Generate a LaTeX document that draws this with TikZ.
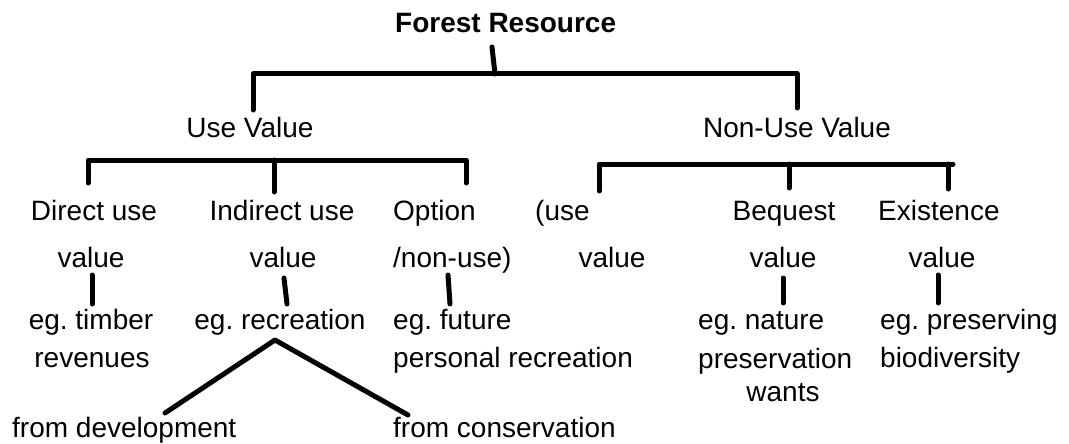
\documentclass[tikz,border=0pt]{standalone}
\usepackage{fontspec}
\setmainfont{Liberation Sans}
\frenchspacing
\begin{document}
\begin{tikzpicture}[x=1pt,y=-1pt,
  lbl/.style={inner sep=0pt, anchor=base, font=\fontsize{28}{34}\selectfont},
  lblw/.style={lbl, anchor=base west},
  conn/.style={line width=5pt, line cap=round, line join=round}]
\useasboundingbox[fill=white] (0,0) rectangle (1069,444);

% titles
\node[lblw, font=\fontsize{28}{34}\selectfont\bfseries] (fr) at (395,33) {Forest Resource};
\node[lbl] (uv) at (250,137) {Use Value};
\node[lbl] (nuv) at (797,137) {Non-Use Value};

% row 1
\node[lbl] (du1) at (94,220) {Direct use};
\node[lbl] (iu1) at (282,220) {Indirect use};
\node[lblw] (op1) at (393,220) {Option};
\node[lblw] (nu1) at (535,220) {(use};
\node[lbl] (bq1) at (784,220) {Bequest};
\node[lblw] (ex1) at (878,220) {Existence};

% row 2
\node[lbl] (du2) at (91,267) {value};
\node[lbl] (iu2) at (283,267) {value};
\node[lblw] (op2) at (393,267) {/non-use)};
\node[lbl] (nu2) at (612,267) {value};
\node[lbl] (bq2) at (783,267) {value};
\node[lbl] (ex2) at (942,267) {value};

% examples
\node[lbl] (due1) at (91,329) {eg. timber};
\node[lbl] (due2) at (92,367) {revenues};
\node[lbl] (iue) at (280,329) {eg. recreation};
\node[lblw] (ope1) at (393,329) {eg. future};
\node[lblw] (ope2) at (393,367) {personal recreation};
\node[lblw] (bqe1) at (698,329) {eg. nature};
\node[lblw] (bqe2) at (698,368) {preservation};
\node[lbl] (bqe3) at (783,401) {wants};
\node[lblw] (exe1) at (880,329) {eg. preserving};
\node[lblw] (exe2) at (880,367) {biodiversity};

\node[lblw] (dev) at (12,437) {from development};
\node[lblw] (con) at (393,437) {from conservation};

% coordinates
\coordinate (t0) at (492,47);
\coordinate (t1) at (495,74);
\coordinate (tl) at (253,74);
\coordinate (tr) at (797,74);
\coordinate (tlb) at (253,110);
\coordinate (trb) at (797,108);

\coordinate (ul) at (88,160);
\coordinate (um) at (274,160);
\coordinate (ur) at (466,160);
\coordinate (ulb) at (88,183);
\coordinate (umb) at (274,192);
\coordinate (urb) at (466,183);

\coordinate (nl) at (599,164);
\coordinate (nm) at (789,164);
\coordinate (nr) at (953,164);
\coordinate (nrv) at (948,164);
\coordinate (nlb) at (599,191);
\coordinate (nmb) at (789,188);
\coordinate (nrb) at (948,189);

\coordinate (a1) at (92,275);   \coordinate (b1) at (92,304);
\coordinate (a2) at (284,278);  \coordinate (b2) at (287,304);
\coordinate (a3) at (448,275);  \coordinate (b3) at (450,304);
\coordinate (a4) at (783,278);  \coordinate (b4) at (783,303);
\coordinate (a5) at (938,275);  \coordinate (b5) at (938,303);

\coordinate (apex) at (275,340);
\coordinate (vl) at (165,413);
\coordinate (vr) at (408,415);

% connectors
\draw[conn] (t0) -- (t1);
\draw[conn] (tlb) -- (tl) -- (tr) -- (trb);

\draw[conn] (ulb) -- (ul) -- (ur) -- (urb);
\draw[conn] (um) -- (umb);

\draw[conn] (nlb) -- (nl) -- (nr);
\draw[conn] (nm) -- (nmb);
\draw[conn] (nrv) -- (nrb);

\draw[conn] (a1) -- (b1);
\draw[conn] (a2) -- (b2);
\draw[conn] (a3) -- (b3);
\draw[conn] (a4) -- (b4);
\draw[conn] (a5) -- (b5);

\draw[conn] (vl) -- (apex) -- (vr);
\end{tikzpicture}
\end{document}
